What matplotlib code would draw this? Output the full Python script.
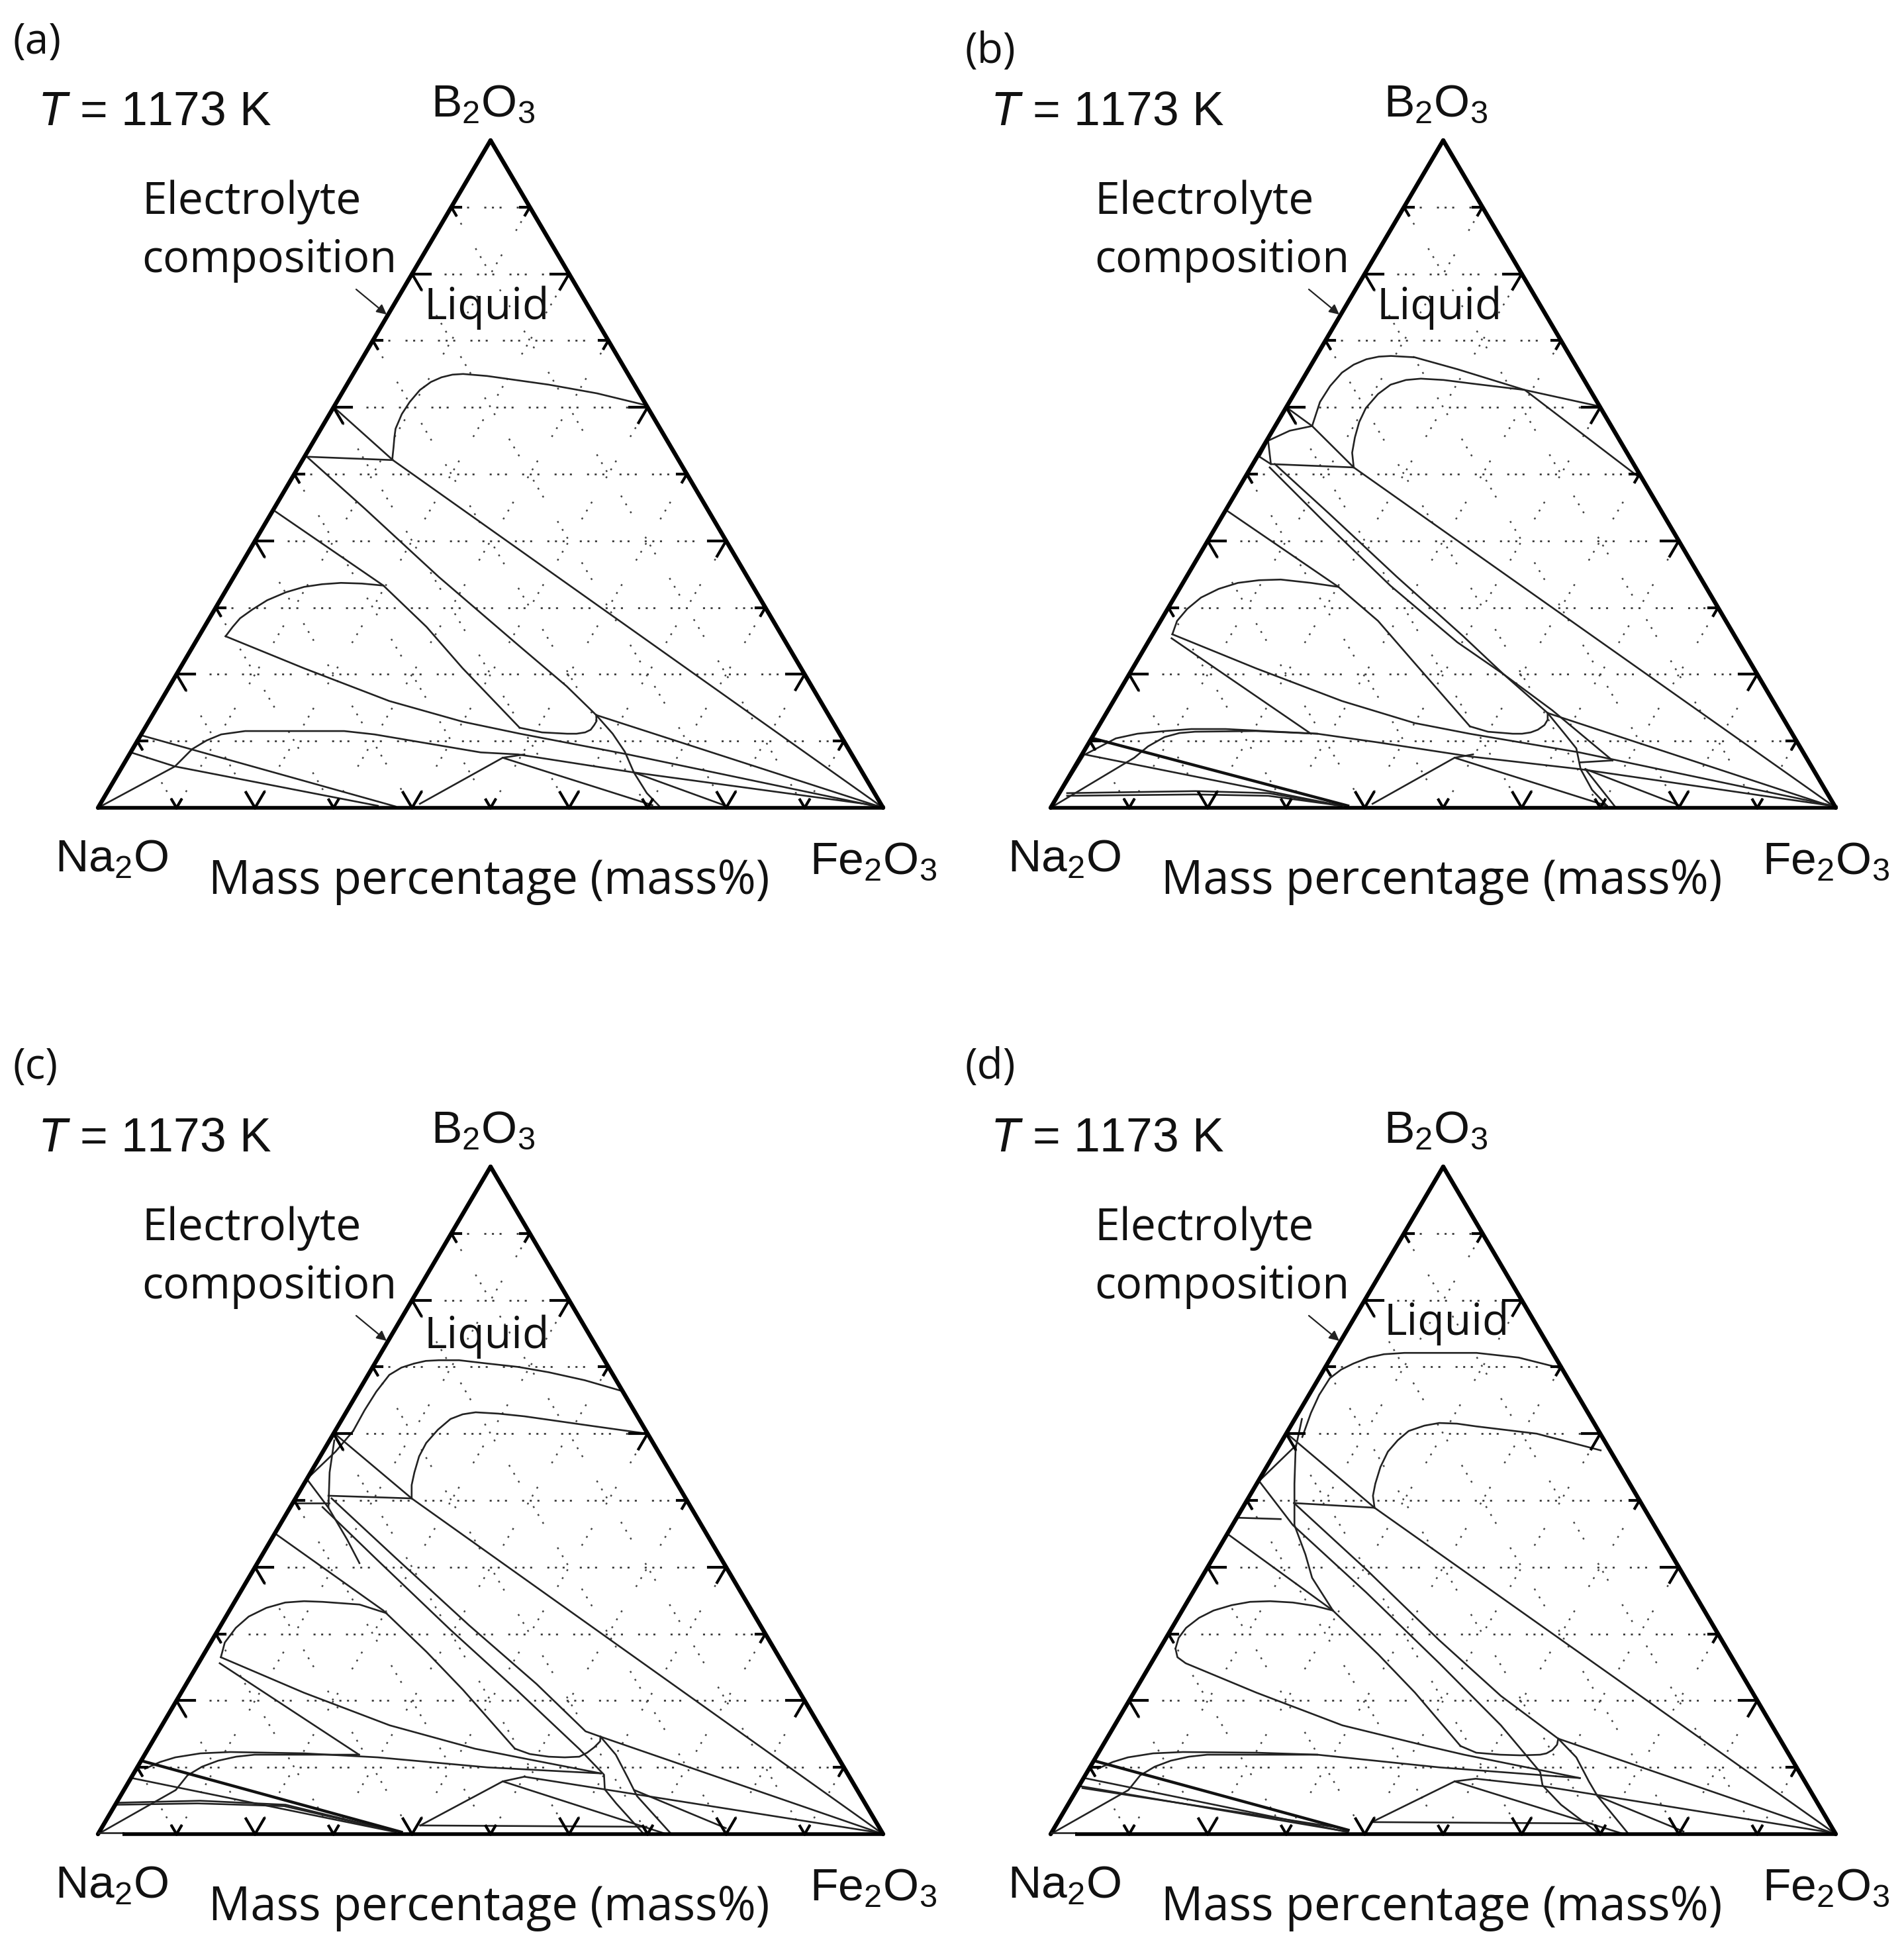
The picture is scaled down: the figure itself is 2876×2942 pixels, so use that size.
import numpy as np
import matplotlib
matplotlib.use('Agg')
import matplotlib.pyplot as plt

plt.rcParams['font.family'] = ['Liberation Sans', 'DejaVu Sans']
plt.rcParams['mathtext.fontset'] = 'custom'
plt.rcParams['mathtext.rm'] = 'Liberation Sans'
plt.rcParams['mathtext.it'] = 'Liberation Sans:italic'
plt.rcParams['mathtext.default'] = 'regular'
plt.rcParams['lines.scale_dashes'] = False

### Phase boundaries, every point is (Fe2O3 mass%, B2O3 mass%)
curves_a = [
    [(11.3,52.4),(10.6,54.1),(10.0,55.5),(9.5,56.8),(9.2,59.0),(9.3,60.8),(9.7,62.6),(10.5,63.8),(11.5,64.5),(12.7,64.9),(14.0,65.0),(17.2,64.7),(25.7,63.4),(32.5,62.1),(39.7,60.3)],
    [(0.2,59.9),(11.5,52.1),(100,0)],
    [(0.3,52.6),(11.5,52.1)],
    [(0.3,52.6),(11.6,44.8),(26.1,34.6),(41.3,24.4),(50.6,18.2),(56.5,13.9),(100,0)],
    [(56.5,13.9),(57.0,13.0),(57.0,12.4),(56.9,11.7),(56.4,11.3),(55.4,11.1),(54.2,11.1),(50.9,11.3),(47.7,12.0)],
    [(0.4,44.4),(19.7,33.3),(28.3,27.1),(36.0,20.9),(47.7,12.0)],
    [(3.4,25.7),(3.6,27.1),(3.9,28.4),(4.8,29.7),(6.0,31.1),(7.8,32.3),(9.7,33.1),(11.8,33.5),(14.1,33.7),(16.8,33.6),(19.7,33.3)],
    [(3.4,25.7),(15.8,20.9),(29.1,16.0),(40.0,12.9),(48.2,11.1),(63.5,8.0),(100,0)],
    [(0,0),(6.7,6.2),(7.6,8.8),(8.8,10.1),(10.2,11.0),(13.0,11.5),(25.6,11.5),(29.7,11.0),(44.6,8.3),(49.5,8.0),(65.6,5.3),(100,0.2)],
    [(0.3,10.8),(37.8,0.2)],
    [(0.35,8.2),(6.7,6.2),(35.5,0.3)],
    [(40.7,0.6),(47.8,7.5),(50.3,8.0)],
    [(47.8,7.5),(70.4,0.4)],
    [(65.6,5.3),(79.8,0.3)],
    [(56.5,13.9),(60.0,11.1),(62.9,8.4),(65.6,5.3),(68.8,2.2),(71.3,0.3)],
]
heavy_a = []

curves_b = [
    [(4.7,57.2),(3.9,60.8),(4.0,63.2),(4.5,65.2),(5.4,66.4),(6.6,67.2),(8.0,67.6),(9.5,67.7),(12.6,67.5),(19.0,65.7),(29.1,62.6),(39.6,60.2)],
    [(13.1,51.0),(11.8,53.2),(11.0,55.5),(10.4,57.8),(10.2,59.9),(10.7,62.0),(11.6,63.4),(13.2,64.1),(15.0,64.3),(18.0,64.1),(21.6,63.6),(29.1,62.6),(49.9,49.7)],
    [(0.2,59.9),(4.7,57.2),(13.1,51.0),(100,0)],
    [(0.2,55.0),(2.2,56.5),(4.7,57.2)],
    [(0.2,55.0),(2.3,51.5),(13.1,51.0)],
    [(0.3,52.6),(0.2,55.0)],
    [(0.3,52.6),(2.3,51.5)],
    [(2.4,51.0),(13.2,43.0),(26.6,33.3),(39.4,24.8),(47.7,20.0),(56.2,14.2),(100,0)],
    [(2.8,51.5),(13.4,44.1),(26.8,34.6),(39.7,25.7),(47.7,20.0),(56.6,14.6),(68.0,7.1)],
    [(64.0,6.8),(68.0,7.1)],
    [(0.4,44.4),(20.1,33.1),(27.7,28.0),(35.5,21.7),(47.3,12.2)],
    [(56.2,14.2),(56.7,13.2),(56.7,12.4),(56.2,11.7),(55.5,11.3),(54.5,11.1),(53.3,11.1),(50.0,11.4),(47.3,12.2)],
    [(2.5,26.0),(2.1,28.0),(2.5,29.8),(3.4,31.5),(5.0,32.8),(7.0,33.7),(9.5,34.1),(12.2,34.2),(16.3,33.7),(20.1,33.1)],
    [(2.5,26.0),(15.7,20.9),(29.1,16.0),(40.0,12.7),(47.8,11.1),(63.2,8.3),(100,0.2)],
    [(2.7,25.4),(27.6,11.1)],
    [(0.4,8.0),(3.1,10.4),(5.5,11.1),(8.8,11.5),(12.0,11.8),(16.4,11.8),(28.4,11.1),(36.8,9.8),(49.5,7.7),(64.5,5.8),(100,0.2)],
    [(0,0),(6.9,7.5),(7.8,9.2),(9.2,10.6),(10.8,11.2),(12.7,11.4),(20.4,11.5),(28.4,11.1)],
    [(0.3,8.0),(36.9,0.3)],
    [(1.0,2.2),(17.2,2.5),(26.6,2.2),(36.9,0.3)],
    [(1.2,1.8),(17.4,2.0),(26.8,1.8),(36.9,0.3)],
    [(0.1,0.2),(0.3,8.0)],
    [(40.7,0.6),(47.7,7.5),(49.8,8.0)],
    [(47.7,7.5),(70.7,0.3)],
    [(56.2,14.2),(59.9,11.1),(62.5,8.9),(64.6,5.8),(67.6,2.7),(70.7,0.3)],
    [(65.2,5.8),(72.0,0)],
    [(65.2,5.8),(79.8,0.4)],
]
heavy_b = [
    [(0.2,10.4),(37.7,0.3)],
    [(37.7,0),(70,0)],
]

curves_c = [
    [(2.3,60.4),(2.2,63.5),(2.3,66.3),(2.7,68.8),(3.7,69.9),(5.0,70.5),(6.3,70.9),(7.9,71.0),(10.5,71.0),(14.4,70.5),(18.5,70.0),(22.8,69.2),(28.0,68.0),(33.5,66.4)],
    [(14.8,50.3),(13.8,52.3),(13.2,54.2),(12.6,56.6),(12.5,58.6),(13.0,60.6),(13.8,62.2),(15.0,62.9),(16.5,63.2),(19.5,63.0),(23.0,62.6),(31.4,61.3),(39.9,60.0)],
    [(0,60.1),(14.8,50.3),(100,0)],
    [(4.0,50.7),(14.8,50.3)],
    [(0.1,49.6),(4.6,49.6)],
    [(0.6,59.0),(2.4,54.2),(4.9,48.9),(9.7,44.1),(13.0,40.6)],
    [(0,53.2),(4.9,48.9)],
    [(0,53.2),(1.6,57.3),(2.3,60.4)],
    [(4.6,50.3),(17.2,41.4),(31.6,31.3),(44.6,22.5),(54.4,15.4),(56.7,14.6),(100,0)],
    [(4.1,49.0),(15.0,41.1),(29.6,30.6),(42.8,21.4),(55.0,12.7),(60.0,8.9),(61.2,6.7),(63.7,4.6),(69.4,0.1)],
    [(0.1,45.0),(19.6,33.5),(28.2,27.3),(35.7,21.6),(46.7,12.8)],
    [(56.7,14.6),(57.0,13.9),(56.7,13.0),(56.2,12.2),(55.5,11.6),(53.7,11.5),(51.6,11.6),(49.0,12.0),(46.7,12.8)],
    [(2.4,26.5),(1.8,28.7),(2.1,30.9),(2.9,32.6),(4.5,33.9),(6.5,34.7),(8.8,34.9),(11.2,34.8),(16.1,34.4),(20.2,33.1)],
    [(2.4,26.5),(15.6,21.2),(29.0,16.3),(41.6,12.8),(47.8,11.5),(59.5,9.1)],
    [(2.7,25.6),(27.3,11.9)],
    [(1.1,9.8),(2.5,10.8),(4.1,11.5),(7.0,12.1),(10.7,12.3),(20.2,12.1),(29.9,11.5),(44.6,10.0),(59.5,9.1)],
    [(0,0),(6.6,6.6),(7.0,8.8),(8.2,10.1),(9.8,11.0),(11.8,11.6),(14.0,11.9),(27.3,11.9)],
    [(0.1,8.4),(37.8,0.3)],
    [(0.1,4.7),(10.5,5.0),(21.7,4.4),(36.8,0.6)],
    [(0.1,4.4),(10.4,4.6),(21.6,4.2),(36.8,0.6)],
    [(0.1,4.7),(0.1,8.4)],
    [(40.4,1.3),(47.6,7.9),(50.0,8.6),(61.2,6.7),(100,0.1)],
    [(47.6,7.9),(72.1,0.1)],
    [(56.7,14.6),(60.0,11.9),(63.3,8.4),(65.8,5.7),(72.9,0.1)],
    [(40.4,1.3),(69.3,1.1)],
    [(65.0,6.6),(79.5,0.9)],
]
heavy_c = [
    [(0,11.0),(38.5,0.3)],
]

curves_d = [
    [(2.3,59.5),(1.6,63.1),(1.3,65.8),(1.4,68.3),(2.2,69.6),(3.3,70.5),(4.8,71.4),(6.5,71.9),(9.0,72.1),(11.9,72.1),(18.2,72.1),(23.9,71.4),(30.1,69.8)],
    [(16.8,48.9),(15.7,50.7),(15.1,52.5),(14.5,55.0),(14.3,57.3),(14.7,59.0),(15.4,60.4),(17.0,61.2),(18.7,61.6),(21.0,61.5),(23.6,61.1),(31.9,60.0),(41.3,57.5)],
    [(0.1,60.0),(16.8,48.9),(100,0)],
    [(6.2,49.6),(16.8,48.9)],
    [(0.2,47.4),(5.7,47.2)],
    [(0.9,62.2),(2.3,57.8),(4.8,52.5),(7.9,46.3),(11.5,41.9),(14.1,38.4),(19.2,33.5)],
    [(0.1,52.9),(2.1,58.2)],
    [(6.2,49.6),(20.3,39.7),(34.9,29.1),(47.0,20.7),(57.5,14.3),(100,0)],
    [(0.1,52.9),(7.7,46.3),(22.1,36.2),(36.7,25.6),(49.2,16.3),(57.7,9.3),(59.0,7.3),(62.8,4.4),(69.6,0.2)],
    [(0,45.0),(19.2,33.5),(28.3,26.9),(35.8,21.2),(45.6,13.2)],
    [(57.5,14.3),(57.8,13.4),(57.6,12.6),(57.1,12.1),(56.4,11.9),(54.0,11.8),(51.3,11.9),(48.1,12.2),(45.6,13.2)],
    [(2.0,27.8),(1.6,29.4),(1.8,30.9),(2.7,32.4),(4.0,33.5),(5.9,34.3),(8.0,34.8),(10.5,34.9),(13.5,34.7),(16.5,34.2),(19.2,33.5)],
    [(2.0,27.8),(2.9,26.5),(4.4,25.6),(15.6,21.2),(29.0,16.3),(41.3,13.2),(46.7,11.9),(63.2,8.4)],
    [(1.1,9.8),(2.5,10.8),(4.1,11.5),(7.0,12.1),(10.7,12.3),(20.1,12.2),(28.0,11.9),(44.5,10.0),(63.2,8.4)],
    [(0,0),(6.6,6.6),(7.0,8.8),(8.2,10.1),(9.8,11.0),(11.8,11.6),(14.0,11.9),(28.0,11.9)],
    [(0.1,8.4),(37.7,0.3)],
    [(0.1,7.2),(37.4,0.4)],
    [(0.6,6.9),(36.6,0.9)],
    [(40.0,1.8),(47.5,7.9),(50.0,8.3),(59.0,7.2),(100,0.1)],
    [(47.5,7.9),(72.7,0.1)],
    [(40.0,1.8),(68.1,1.6)],
    [(57.5,14.3),(61.2,11.5),(64.6,7.9),(66.8,5.7),(73.5,0.1)],
    [(66.8,5.7),(80.4,0.4)],
]
heavy_d = [
    [(0,11.0),(37.6,0.6)],
]

all_curves = [curves_a, curves_b, curves_c, curves_d]
all_heavy = [heavy_a, heavy_b, heavy_c, heavy_d]
panel_names = ['(a)', '(b)', '(c)', '(d)']
grid_values = [10, 20, 30, 40, 50, 60, 70, 80, 90]

#### layout in pixels
W, H = 2876, 2942
fig = plt.figure(figsize=(W/100, H/100), dpi=100, facecolor='white')

tri_left = [148, 1587, 148, 1587]
tri_base = [1220, 1220, 2770, 2770]
tri_w, tri_h = 1186, 1008
name_y = [64, 78, 1612, 1612]
liquid_shift = [(0, 0), (0, 0), (0, 4), (11, -16)]
base_step = [0, 0, 3.1, 3.1]   # lower panels have a thin start on the base line

flat_dots = (0, (2.2, 6.1, 2.2, 6.1, 2.2, 16.5))
slant_dots = (0, (2.0, 8.0, 2.0, 8.0, 2.0, 30.0))
sans = ['Open Sans', 'DejaVu Sans']


def tern(fe, b):
    # Fe2O3 runs along the base, B2O3 goes up
    fe = np.asarray(fe, dtype=float)
    b = np.asarray(b, dtype=float)
    return fe + b/2, b


def put_text(x, y, s, **kw):
    fig.text(x/W, 1 - y/H, s, va='center', color='#111111', **kw)


for i in range(4):
    x0 = tri_left[i]
    y0 = tri_base[i]
    dx = x0 - 148
    dy = y0 - 1220
    ax = fig.add_axes([x0/W, 1 - y0/H, tri_w/W, tri_h/H])
    ax.set_xlim(0, 100)
    ax.set_ylim(0, 100)
    ax.axis('off')

    #### dotted composition grid
    for v in grid_values:
        xs, ys = tern([0, 100-v], [v, v])
        ax.plot(xs, ys, color='#333333', lw=1.9, ls=flat_dots, clip_on=False, zorder=1)
        xs, ys = tern([v, v], [0, 100-v])
        ax.plot(xs, ys, color='#444444', lw=1.8, ls=slant_dots, clip_on=False, zorder=1)
        xs, ys = tern([0, 100-v], [100-v, 0])
        ax.plot(xs, ys, color='#444444', lw=1.8, ls=slant_dots, clip_on=False, zorder=1)

    #### phase boundaries
    for c in all_curves[i]:
        pts = np.array(c)
        xs, ys = tern(pts[:, 0], pts[:, 1])
        ax.plot(xs, ys, color='#222222', lw=1.9, solid_joinstyle='round', clip_on=False, zorder=3)
    for c in all_heavy[i]:
        pts = np.array(c)
        xs, ys = tern(pts[:, 0], pts[:, 1])
        ax.plot(xs, ys, color='#111111', lw=3.2, clip_on=False, zorder=3)

    #### triangle frame
    xs, ys = tern([0, 0], [0, 100])
    ax.plot(xs, ys, color='black', lw=4.6, solid_capstyle='round', clip_on=False, zorder=4)
    xs, ys = tern([100, 0], [0, 100])
    ax.plot(xs, ys, color='black', lw=4.6, solid_capstyle='round', clip_on=False, zorder=4)
    if base_step[i] > 0:
        xs, ys = tern([0, base_step[i]], [0.2, 0.2])
        ax.plot(xs, ys, color='#222222', lw=1.9, clip_on=False, zorder=4)
    xs, ys = tern([base_step[i], 100], [0, 0])
    ax.plot(xs, ys, color='black', lw=4.0, solid_capstyle='butt', clip_on=False, zorder=4)

    #### ticks on each side, longer on the even tens
    for v in grid_values:
        t = 2.3 if v % 20 == 0 else 1.2
        strokes = [
            ([v, v-t], [0, t]), ([v, v], [0, t]),
            ([0, t], [v, v]), ([0, t], [v, v-t]),
            ([100-v, 100-v-t], [v, v]), ([100-v, 100-v], [v, v-t]),
        ]
        for fe, b in strokes:
            xs, ys = tern(fe, b)
            ax.plot(xs, ys, color='black', lw=3.0, clip_on=False, zorder=4)

    #### labels
    put_text(19 + dx, name_y[i], panel_names[i], family=sans, fontsize=46)
    put_text(57 + dx, 170 + dy, r'$\mathit{T}$ = 1173 K', fontsize=51.5)
    put_text(730 + dx, 158 + dy, r'B$_2$O$_3$', fontsize=50, ha='center')
    put_text(169 + dx, 1298 + dy, r'Na$_2$O', fontsize=50, ha='center')
    put_text(1319 + dx, 1302 + dy, r'Fe$_2$O$_3$', fontsize=50, ha='center')
    put_text(739 + dx, 1331 + dy, 'Mass percentage (mass%)', family=sans, fontsize=50.8, ha='center')
    put_text(214 + dx, 305 + dy, 'Electrolyte', family=sans, fontsize=49)
    put_text(214 + dx, 393 + dy, 'composition', family=sans, fontsize=48)
    put_text(735 + dx + liquid_shift[i][0], 465 + dy + liquid_shift[i][1], 'Liquid',
             family=sans, fontsize=47.6, ha='center')
    fig.add_artist(matplotlib.patches.FancyArrowPatch(
        ((538 + dx)/W, 1 - (437 + dy)/H), ((584 + dx)/W, 1 - (475 + dy)/H),
        transform=fig.transFigure, arrowstyle='-|>', mutation_scale=22, lw=1.6, color='#222222',
        shrinkA=0, shrinkB=0))

fig.savefig('out.png', dpi=100, facecolor='white')
